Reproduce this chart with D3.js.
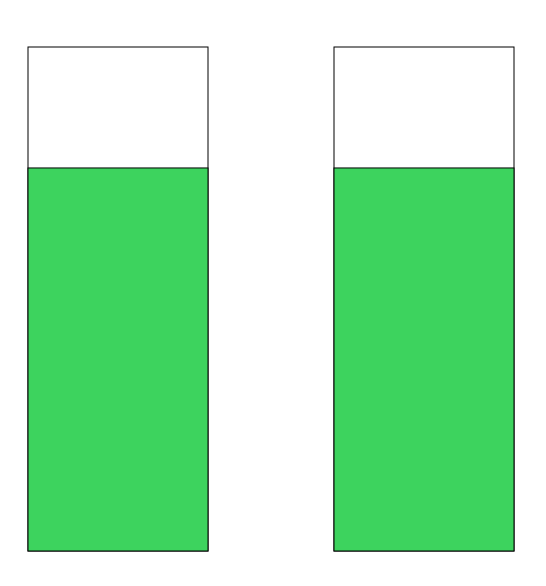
<!DOCTYPE html>
<html>
<head>
<meta charset="utf-8">
<script src="https://d3js.org/d3.v7.min.js"></script>
<style>
  html, body { margin: 0; padding: 0; background: #fff; }
  svg { display: block; }
</style>
</head>
<body>
<script>
const categories = ["A", "B"];
const values = [76, 76];
const maxValue = 100;

const W = 546, H = 586;
const svg = d3.select("body").append("svg").attr("width", W).attr("height", H);

const x = d3.scaleBand().domain(categories).range([28, 514]).paddingInner(126 / 306).paddingOuter(0);
const y = d3.scaleLinear().domain([0, maxValue]).range([551, 47]);

const g = svg.selectAll("g.gauge").data(categories.map((c, i) => ({ c, v: values[i] })))
  .join("g").attr("class", "gauge");

g.append("rect")
  .attr("x", d => x(d.c))
  .attr("y", y(maxValue))
  .attr("width", x.bandwidth())
  .attr("height", y(0) - y(maxValue))
  .attr("fill", "#fff")
  .attr("stroke", "#000")
  .attr("stroke-width", 1);

g.append("rect")
  .attr("x", d => x(d.c))
  .attr("y", d => y(d.v))
  .attr("width", x.bandwidth())
  .attr("height", d => y(0) - y(d.v))
  .attr("fill", "#3dd35e")
  .attr("stroke", "#000")
  .attr("stroke-width", 1);
</script>
</body>
</html>
